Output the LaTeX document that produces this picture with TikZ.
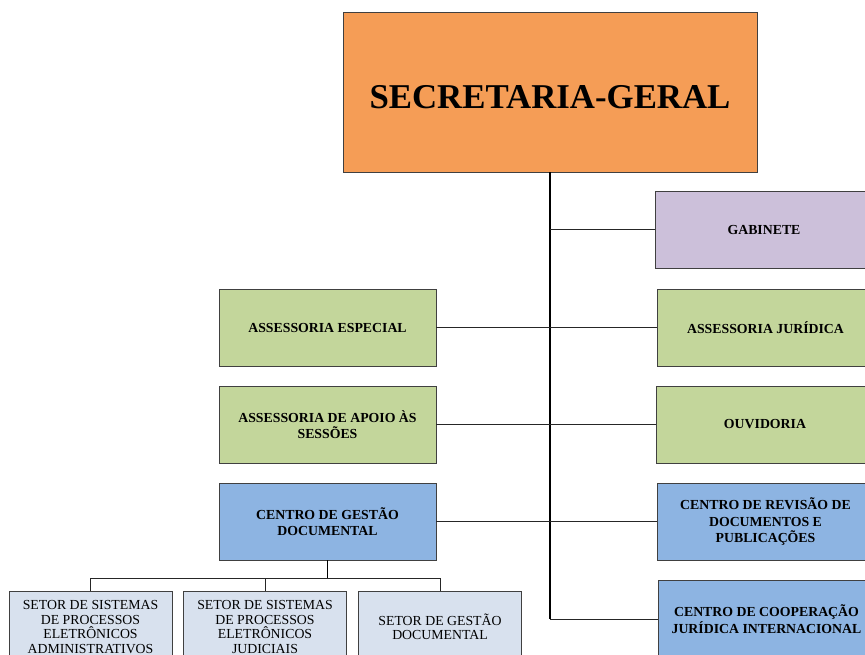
\documentclass[tikz,border=0pt]{standalone}
\usepackage{fontspec}
\setmainfont{Liberation Serif}
\usepackage{tikz}
\definecolor{sgorange}{HTML}{F59D56}
\definecolor{gablilac}{HTML}{CCC0DA}
\definecolor{assgreen}{HTML}{C3D69B}
\definecolor{ctrblue}{HTML}{8DB4E2}
\definecolor{setorgray}{HTML}{D8E1EE}

\begin{document}
\begin{tikzpicture}
        [x=1pt, y=-1pt,
        unit/.style={rectangle, draw=black!75, line width=0.8pt, inner sep=2pt, align=center,
          minimum width=217pt, minimum height=77pt, font=\fontsize{13.8}{16.5}\selectfont\bfseries},
        setor/.style={unit, fill=setorgray, minimum width=163pt, minimum height=72pt,
          font=\fontsize{13.8}{14.5}\selectfont},
        trunk/.style={line width=1.6pt},
        branch/.style={line width=1pt, black!85}]
        \useasboundingbox (0, 0) rectangle (865, 655);
        \clip (0, 0) rectangle (865, 655);
        \node (SG) at (550, 92) [unit, fill=sgorange, minimum width=414pt, minimum height=160pt,
          text height=33pt, font=\fontsize{34.8}{40}\selectfont\bfseries] {SECRETARIA-GERAL};
        \node (GAB) at (764, 230) [unit, fill=gablilac] {GABINETE};
        \node (AE) at (327.5, 327.5) [unit, fill=assgreen] {ASSESSORIA ESPECIAL};
        \node (AJ) at (765.5, 327.5) [unit, fill=assgreen] {ASSESSORIA JURÍDICA};
        \node (AAS) at (327.5, 424.5) [unit, fill=assgreen] {ASSESSORIA DE APOIO ÀS\\SESSÕES};
        \node (OUV) at (765, 424.5) [unit, fill=assgreen] {OUVIDORIA};
        \node (CGD) at (327.5, 521.5) [unit, fill=ctrblue] {CENTRO DE GESTÃO\\DOCUMENTAL};
        \node (CRDP) at (765.5, 521.5) [unit, fill=ctrblue] {CENTRO DE REVISÃO DE\\DOCUMENTOS E\\PUBLICAÇÕES};
        \node (CCJI) at (766.5, 619) [unit, fill=ctrblue] {CENTRO DE COOPERAÇÃO\\JURÍDICA INTERNACIONAL};
        \node (SSPEA) at (90.5, 627) [setor] {SETOR DE SISTEMAS\\DE PROCESSOS\\ELETRÔNICOS\\ADMINISTRATIVOS};
        \node (SSPEJ) at (265, 627) [setor] {SETOR DE SISTEMAS\\DE PROCESSOS\\ELETRÔNICOS\\JUDICIAIS};
        \node (SGD) at (440, 627) [setor] {SETOR DE GESTÃO\\DOCUMENTAL};
        \coordinate (T) at (550, 619);
        \coordinate (JG) at (550, 230);
        \coordinate (B) at (327.5, 578);
        \path (SG) edge[trunk] (T);
        \path (JG) edge[branch] (GAB);
        \path (AE) edge[branch] (AJ);
        \path (AAS) edge[branch] (OUV);
        \path (CGD) edge[branch] (CRDP);
        \path (T) edge[branch] (CCJI);
        \path (CGD) edge[trunk] (B);
        \draw[branch] (B) -| (SSPEA) (B) -| (SSPEJ) (B) -| (SGD);
     \end{tikzpicture}
\end{document}
